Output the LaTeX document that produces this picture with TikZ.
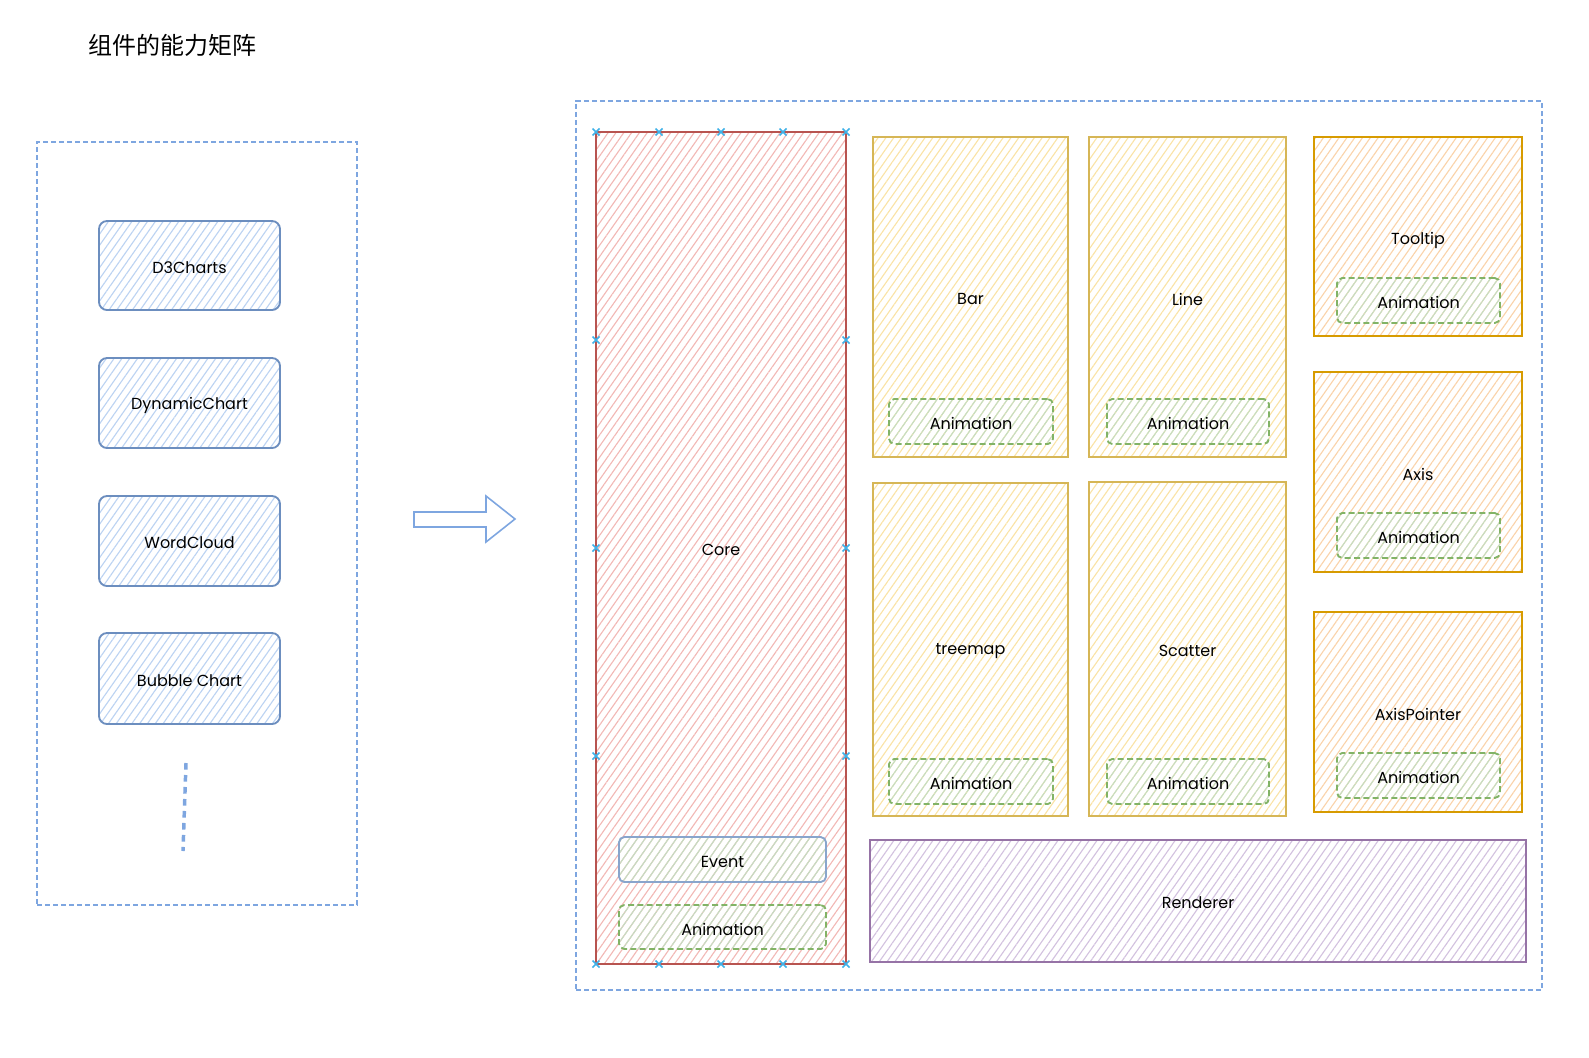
\documentclass[tikz,border=0pt]{standalone}
\usepackage{fontspec}
\setmainfont{Poppins}
\newfontfamily\cjk{Noto Sans CJK SC}
\usetikzlibrary{patterns.meta,fit}
\definecolor{frameblue}{HTML}{7EA6E0}
\definecolor{bstroke}{HTML}{6C8EBF}
\definecolor{bfill}{HTML}{BCD3F2}
\definecolor{rstroke}{HTML}{B85450}
\definecolor{rfill}{HTML}{F2B8B5}
\definecolor{ystroke}{HTML}{D6B656}
\definecolor{yfill}{HTML}{FAE3A6}
\definecolor{ostroke}{HTML}{D79B00}
\definecolor{ofill}{HTML}{FAD3AA}
\definecolor{gstroke}{HTML}{82B366}
\definecolor{gfill}{HTML}{C5DEC3}
\definecolor{pstroke}{HTML}{9673A6}
\definecolor{pfill}{HTML}{D3C2DF}
\definecolor{handle}{HTML}{3FB1E8}
\begin{document}
\begin{tikzpicture}[x=0.75pt,y=-0.75pt,
  hatch/.style={pattern={Lines[angle=55,distance=4.8pt,line width=0.85pt]}, pattern color=#1},
  txt/.style={font=\fontsize{12}{14}\selectfont, text=black, inner sep=0pt, yshift=-1.5pt},
  fitbox/.style={inner sep=0pt},
  frame/.style={draw=frameblue, line width=1pt, dash pattern=on 4pt off 2pt},
  chartbox/.style={fitbox, draw=bstroke, line width=1.4pt, rounded corners=6pt, hatch=bfill},
  corebox/.style={fitbox, draw=rstroke, line width=1.3pt, hatch=rfill},
  eventbox/.style={fitbox, draw=bstroke!80, line width=1.4pt, rounded corners=4pt, hatch=gfill},
  animbox/.style={fitbox, draw=gstroke, line width=1.4pt, dash pattern=on 4.5pt off 2.5pt, rounded corners=4pt, hatch=gfill},
  ybox/.style={fitbox, draw=ystroke, line width=1.2pt, hatch=yfill},
  obox/.style={fitbox, draw=ostroke, line width=1.3pt, hatch=ofill},
  pbox/.style={fitbox, draw=pstroke, line width=1.4pt, hatch=pfill},
  handlemark/.style={draw=handle, line width=1.1pt}
]
\useasboundingbox (0,0) rectangle (1589,1057);

% title
\node[anchor=west, inner sep=0pt, font=\cjk\fontsize{18}{21}\selectfont] (title) at (88,45) {组件的能力矩阵};

% left frame
\node[frame, fit={(37,142)(357,905)}, inner sep=0pt] (leftframe) {};
\node[chartbox, fit={(99,221)(280,310)}] (d3) {};
\node[txt] at (d3.center) {D3Charts};
\node[chartbox, fit={(99,358)(280,448)}] (dyn) {};
\node[txt] at (dyn.center) {DynamicChart};
\node[chartbox, fit={(99,496)(280,586)}] (wc) {};
\node[txt] at (wc.center) {WordCloud};
\node[chartbox, fit={(99,633)(280,724)}] (bub) {};
\node[txt] at (bub.center) {Bubble Chart};
\coordinate (dotA) at (186,763);
\coordinate (dotB) at (183,851);
\draw[frameblue, line width=2.6pt, dash pattern=on 5pt off 4pt] (dotA) -- (dotB);

% big arrow
\draw[frameblue, line width=1.2pt, line join=miter]
  (414,512) -- (486,512) -- (486,496) -- (515,519) -- (486,542) -- (486,527) -- (414,527) -- cycle;

% right frame
\node[frame, fit={(576,101)(1542,990)}, inner sep=0pt] (rightframe) {};

% core
\node[corebox, fit={(596,132)(846,964)}] (core) {};
\node[txt] at (core.center) {Core};
\node[eventbox, fit={(619,837)(826,882)}] (event) {};
\node[txt] at (event.center) {Event};
\node[animbox, fit={(619,905)(826,949)}] (coreanim) {};
\node[txt] at (coreanim.center) {Animation};
\foreach \x/\y in {596/132,659/132,721/132,783/132,846/132,
                   596/964,659/964,721/964,783/964,846/964,
                   596/340,596/548,596/756,846/340,846/548,846/756}
  \draw[handlemark] (\x-3.5,\y-3.5) -- (\x+3.5,\y+3.5) (\x-3.5,\y+3.5) -- (\x+3.5,\y-3.5);

% charts
\node[ybox, fit={(873,137)(1068,457)}] (bar) {};
\node[txt] at (bar.center) {Bar};
\node[animbox, fit={(889,399)(1053,444)}] (baranim) {};
\node[txt] at (baranim.center) {Animation};
\node[ybox, fit={(1089,137)(1286,457)}] (line) {};
\node[txt] at (line.center) {Line};
\node[animbox, fit={(1107,399)(1269,444)}] (lineanim) {};
\node[txt] at (lineanim.center) {Animation};
\node[ybox, fit={(873,483)(1068,816)}] (treemap) {};
\node[txt] at (treemap.center) {treemap};
\node[animbox, fit={(889,759)(1053,804)}] (treeanim) {};
\node[txt] at (treeanim.center) {Animation};
\node[ybox, fit={(1089,482)(1286,816)}] (scatter) {};
\node[txt] at (scatter.center) {Scatter};
\node[animbox, fit={(1107,759)(1269,804)}] (scatanim) {};
\node[txt] at (scatanim.center) {Animation};

% components
\node[obox, fit={(1314,137)(1522,336)}] (tooltip) {};
\node[txt] at ([yshift=-1.5pt]tooltip.center) {Tooltip};
\node[animbox, fit={(1337,278)(1500,323)}] (tipanim) {};
\node[txt] at (tipanim.center) {Animation};
\node[obox, fit={(1314,372)(1522,572)}] (axis) {};
\node[txt] at (axis.center) {Axis};
\node[animbox, fit={(1337,513)(1500,558)}] (axisanim) {};
\node[txt] at (axisanim.center) {Animation};
\node[obox, fit={(1314,612)(1522,812)}] (axisptr) {};
\node[txt] at (axisptr.center) {AxisPointer};
\node[animbox, fit={(1337,753)(1500,798)}] (ptranim) {};
\node[txt] at (ptranim.center) {Animation};

% renderer
\node[pbox, fit={(870,840)(1526,962)}] (renderer) {};
\node[txt] at (renderer.center) {Renderer};
\end{tikzpicture}
\end{document}
